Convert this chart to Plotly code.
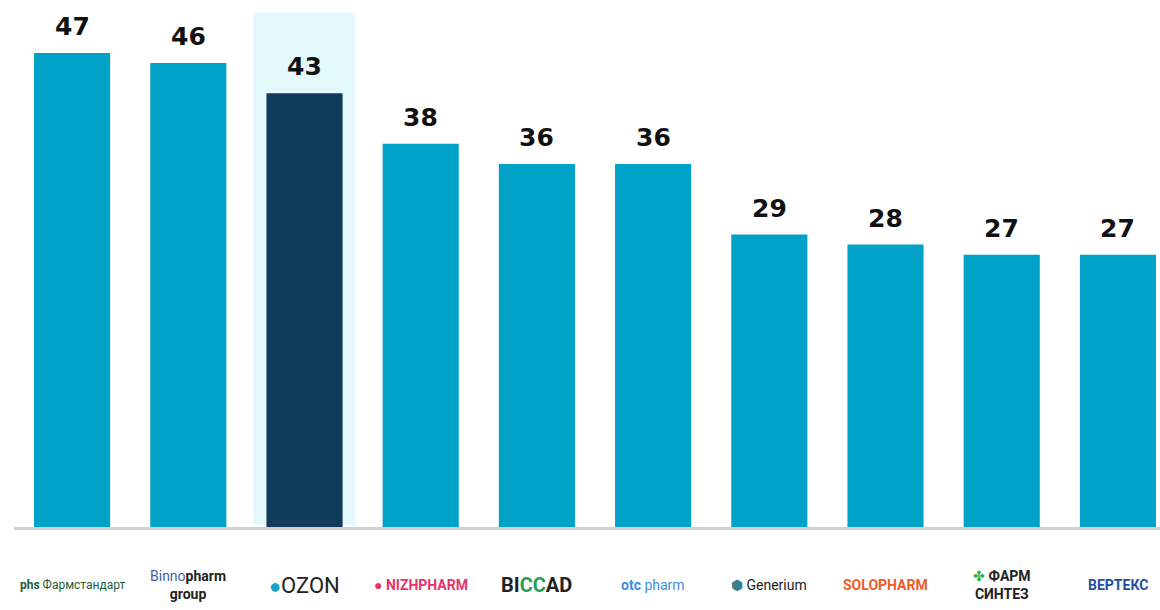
import plotly.graph_objects as go

companies = ["Фармстандарт", "Binnopharm group", "OZON", "NIZHPHARM", "BIOCAD",
             "otc pharm", "Generium", "SOLOPHARM", "ФАРМ СИНТЕЗ", "ВЕРТЕКС"]
values = [47, 46, 43, 38, 36, 36, 29, 28, 27, 27]
highlight = "OZON"

logo_text = [
    "<span style='color:#1f5c36;font-size:12px'><b>phs</b> Фармстандарт</span>",
    "<span style='color:#4a5fa8'>Binno</span><b>pharm</b><br><b>group</b>",
    "<span style='color:#13a3c9;font-size:20px'>●</span><span style='font-size:22px'>OZON</span>",
    "<span style='color:#e8336b'>● <b>NIZHPHARM</b></span>",
    "<b style='font-size:20px'>BI<span style='color:#2a9d55'>CC</span>AD</b>",
    "<span style='color:#3d8fe0'><b>otc</b> pharm</span>",
    "<span style='color:#3a7f8f'>⬢</span> Generium",
    "<span style='color:#f05a28'><b>SOLOPHARM</b></span>",
    "<span style='color:#2db34a'>✤</span> <b>ФАРМ<br>СИНТЕЗ</b>",
    "<span style='color:#1f4fa0'><b>ВЕРТЕКС</b></span>",
]

light = "#00a2c7"
dark = "#103b5a"
colors = [dark if c == highlight else light for c in companies]

fig = go.Figure()
fig.add_trace(go.Bar(
    x=companies, y=values, marker=dict(color=colors, line=dict(width=0)),
    width=0.655, hoverinfo="x+y",
))

hi = companies.index(highlight)
fig.add_shape(type="rect", xref="x", yref="y", x0=hi - 0.44, x1=hi + 0.44,
              y0=0.2, y1=51, fillcolor="#e4f9fe", line=dict(width=0), layer="below")

for c, v in zip(companies, values):
    fig.add_annotation(x=c, y=v, text=f"<b>{v}</b>", showarrow=False,
                       yanchor="bottom", yshift=10,
                       font=dict(family="DejaVu Sans", size=25, color="#111111"))

for c, t in zip(companies, logo_text):
    fig.add_annotation(x=c, y=0, yref="paper", text=t, showarrow=False,
                       yanchor="middle", yshift=-58,
                       font=dict(family="Roboto", size=14, color="#222222"))

fig.update_layout(
    width=1160, height=610,
    margin=dict(l=14, r=0, t=0, b=83),
    paper_bgcolor="white", plot_bgcolor="white",
    showlegend=False,
    xaxis=dict(range=[-0.5, 9.362], showticklabels=False, showgrid=False,
               showline=True, linecolor="#d0d0d0", linewidth=3, ticks="",
               fixedrange=True),
    yaxis=dict(range=[0, 52.25], visible=False, showgrid=False, zeroline=False,
               fixedrange=True),
)

fig.write_html("out.html", config={"displayModeBar": False})
